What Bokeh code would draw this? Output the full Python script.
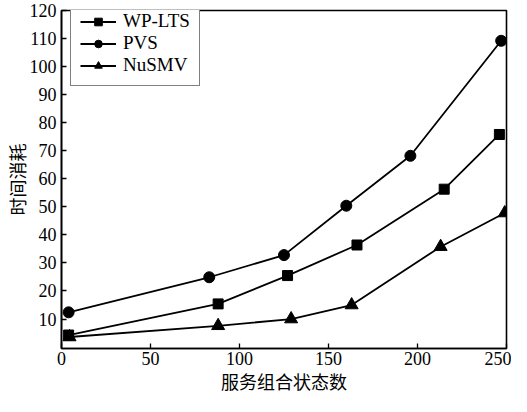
from bokeh.plotting import figure
from bokeh.models import FixedTicker, Range1d
from bokeh.embed import file_html
from bokeh.resources import INLINE

# Data
x_wp = [4, 88, 127, 166, 215, 246]
y_wp = [4.3, 15.4, 25.5, 36.4, 56.3, 75.8]
x_pvs = [4, 83, 125, 160, 196, 247]
y_pvs = [12.4, 24.9, 32.8, 50.4, 68.2, 109.2]
x_nu = [4.5, 88, 129, 163, 213, 249]
y_nu = [3.6, 7.6, 10.0, 15.0, 35.8, 47.8]
x_ticks = [0, 50, 100, 150, 200, 250]
y_ticks = [10, 20, 30, 40, 50, 60, 70, 80, 90, 100, 110, 120]
x_label = "服务组合状态数"
y_label = "时间消耗"

SERIF = "Liberation Serif"
CJK = "Noto Sans CJK SC"

p = figure(width=511, height=396, output_backend="svg", toolbar_location=None,
           x_range=Range1d(0, 250), y_range=Range1d(-0.5, 120),
           min_border_left=57, min_border_right=5, min_border_top=10, min_border_bottom=46)

p.xgrid.visible = False
p.ygrid.visible = False
p.outline_line_color = "black"
p.outline_line_width = 1.6

p.xaxis.ticker = FixedTicker(ticks=x_ticks)
p.yaxis.ticker = FixedTicker(ticks=y_ticks)
for ax in (p.xaxis, p.yaxis):
    ax.major_tick_in = 5
    ax.major_tick_out = 0
    ax.minor_tick_line_color = None
    ax.axis_line_color = "black"
    ax.axis_line_width = 1.6
    ax.major_tick_line_width = 1.3
    ax.major_label_text_font = SERIF
    ax.major_label_text_font_size = "18px"
    ax.major_label_text_color = "black"
    ax.axis_label_text_font = CJK
    ax.axis_label_text_font_size = "18px"
    ax.axis_label_text_font_style = "normal"
    ax.axis_label_text_color = "black"
p.xaxis.axis_label = x_label
p.yaxis.axis_label = y_label
p.xaxis.major_label_standoff = 3
p.xaxis.axis_label_standoff = 0
p.yaxis.major_label_standoff = 5
p.yaxis.axis_label_standoff = -3

lw = 1.8
p.line(x_wp, y_wp, line_color="black", line_width=lw, legend_label="WP-LTS")
p.scatter(x_wp, y_wp, marker="square", size=10, color="black", legend_label="WP-LTS")
p.line(x_pvs, y_pvs, line_color="black", line_width=lw, legend_label="PVS")
p.scatter(x_pvs, y_pvs, marker="circle", size=11, color="black", legend_label="PVS")
p.line(x_nu, y_nu, line_color="black", line_width=lw, legend_label="NuSMV")
p.scatter(x_nu, y_nu, marker="triangle", size=13, color="black", legend_label="NuSMV")

lg = p.legend[0]
lg.location = (9, 262)
lg.margin = 0
lg.padding = 9
lg.spacing = 0
lg.glyph_width = 36
lg.glyph_height = 19
lg.label_height = 19
lg.label_standoff = 7
lg.label_text_font = SERIF
lg.label_text_font_size = "19px"
lg.label_text_color = "black"
lg.border_line_color = "black"
lg.border_line_width = 1.6
lg.background_fill_alpha = 1

open("out.html", "w").write(file_html(p, INLINE))
